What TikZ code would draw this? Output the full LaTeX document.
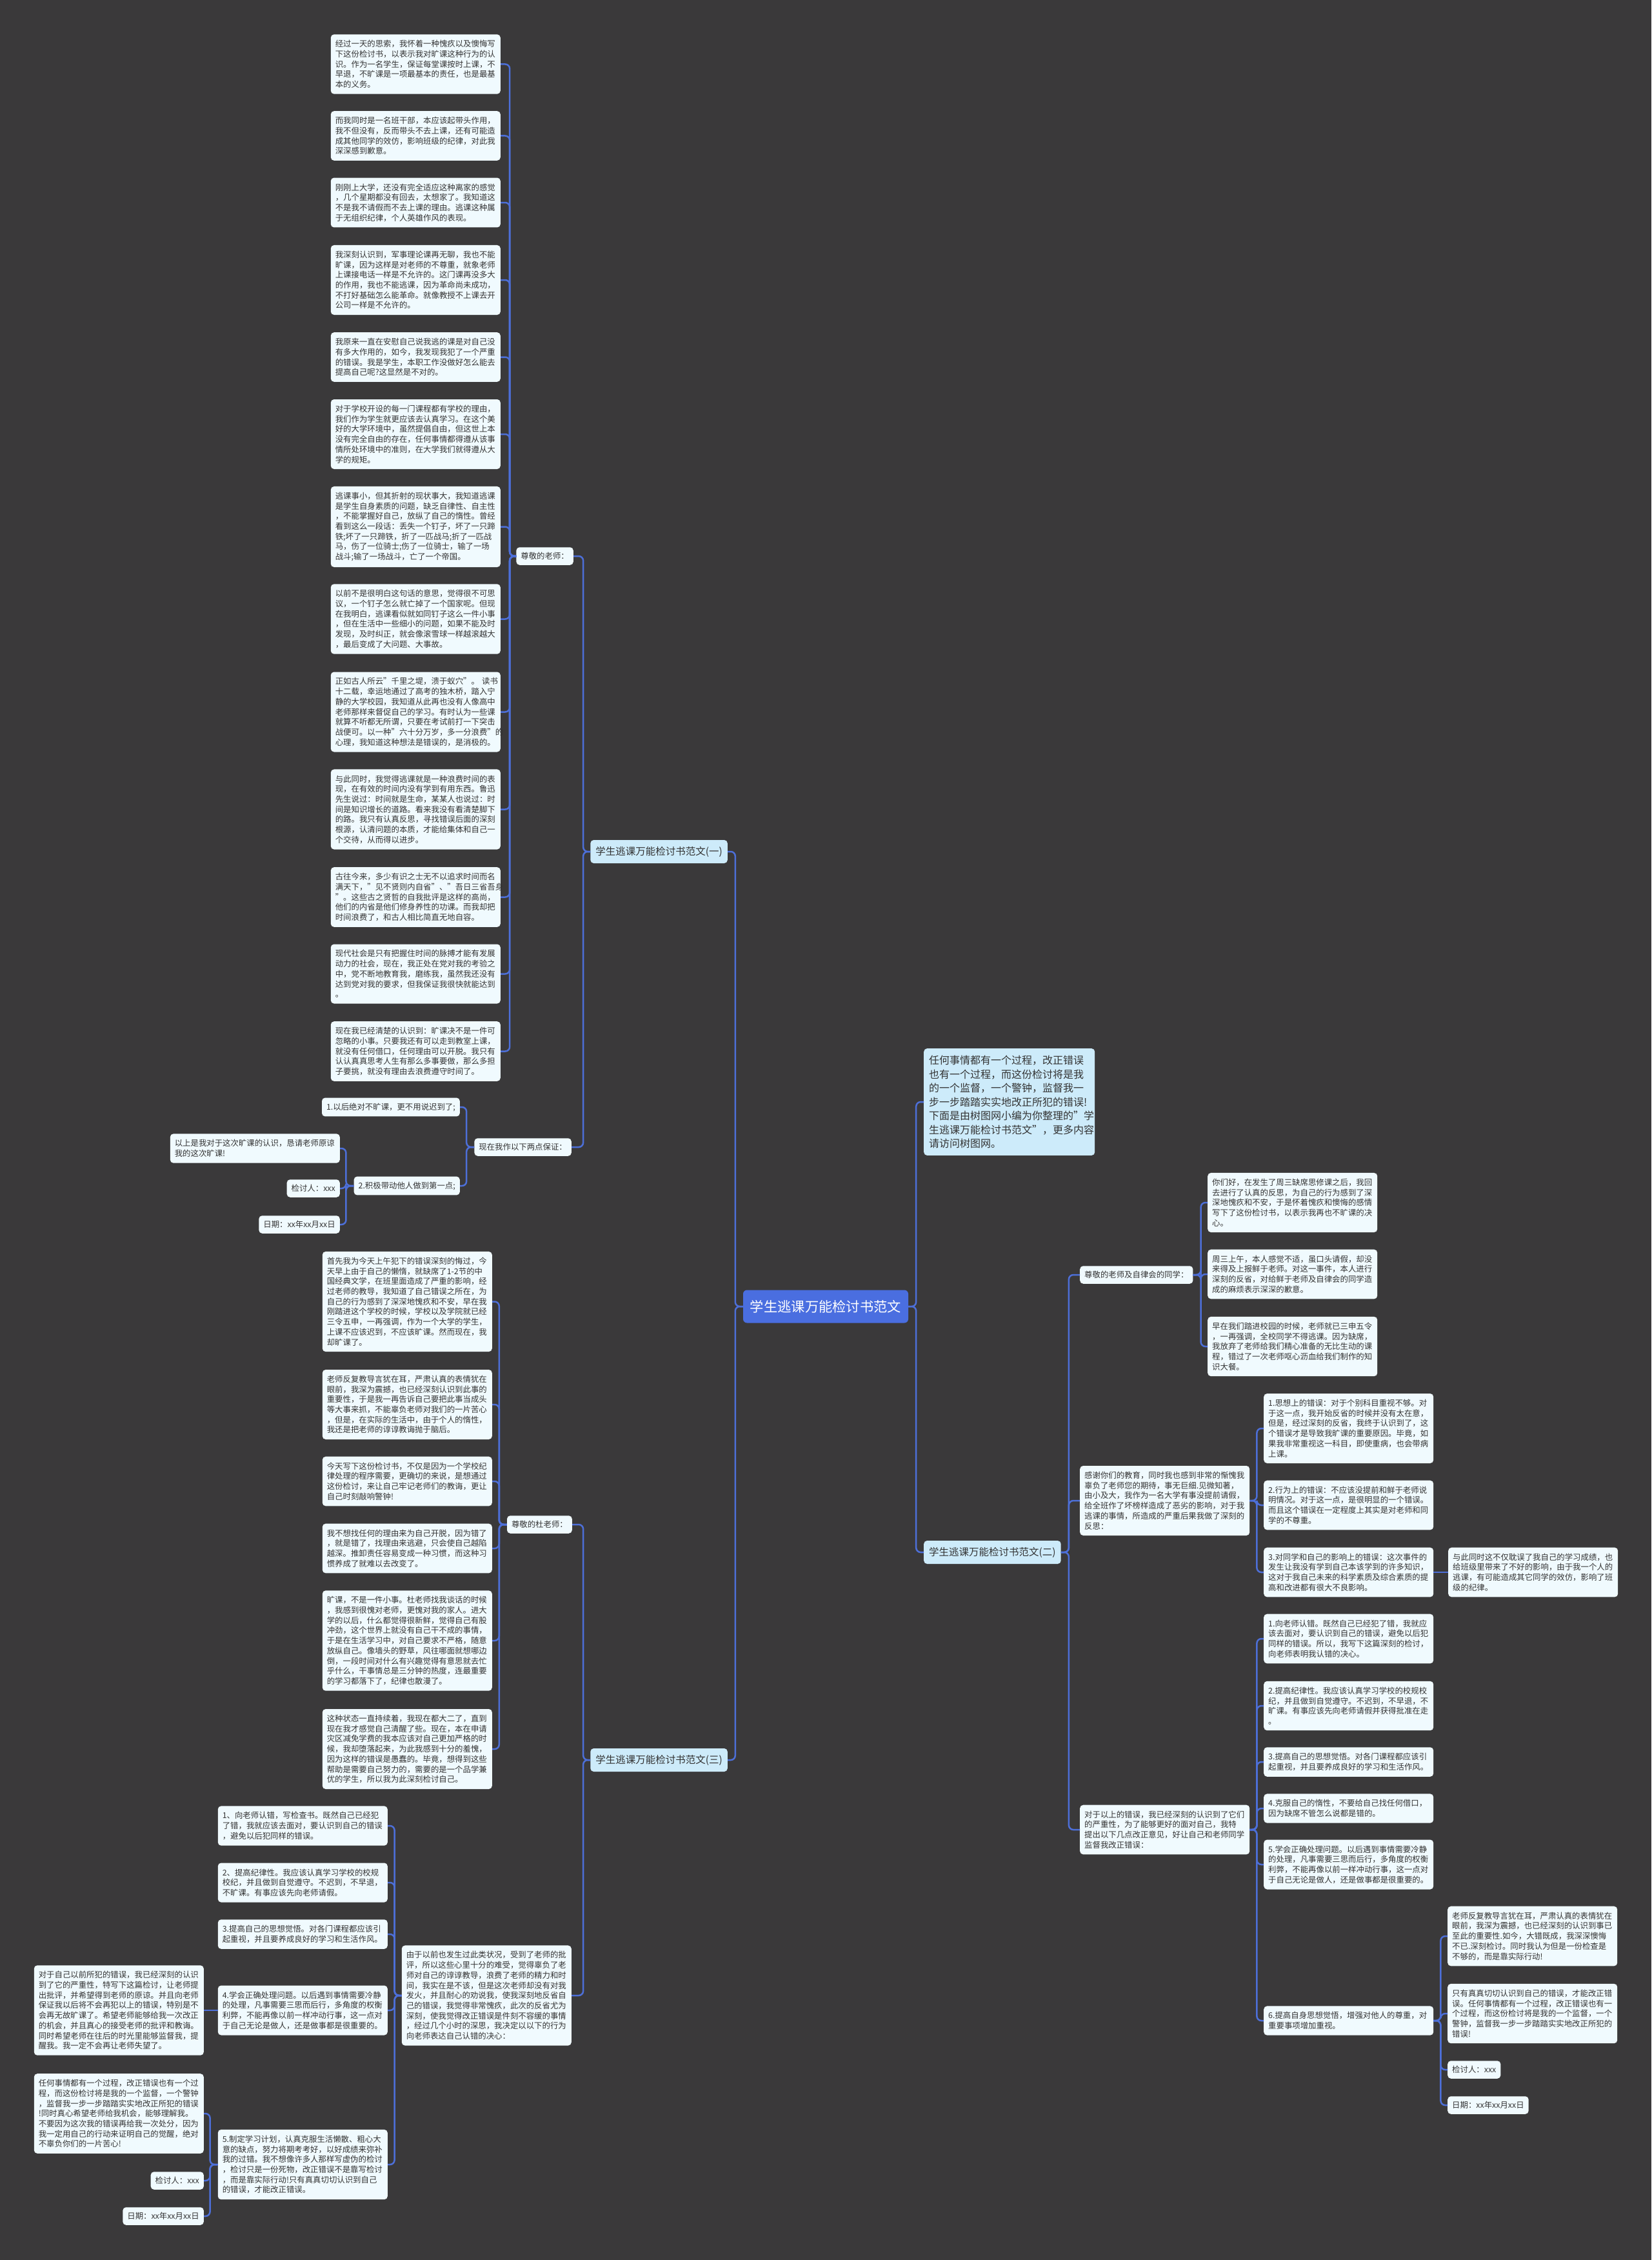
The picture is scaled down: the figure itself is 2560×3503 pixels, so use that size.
\documentclass[tikz,border=0pt]{standalone}
\usepackage{fontspec}
\setmainfont{Noto Sans CJK SC}
\definecolor{bgc}{HTML}{3A393A}
\definecolor{boxc}{HTML}{F0FAFE}
\definecolor{lvc}{HTML}{CDEBFA}
\definecolor{rootc}{HTML}{4A6EE0}
\definecolor{linec}{HTML}{4D6FD8}
\definecolor{txtc}{HTML}{333333}
\begin{document}
\begin{tikzpicture}[x=1pt,y=-1pt,
  tbox/.style={fill=boxc, rounded corners=5pt, text width=249pt, align=left, inner xsep=7pt, inner ysep=9pt, text=txtc, font=\fontsize{12.4}{15.7}\selectfont},
  lab/.style={fill=boxc, rounded corners=5pt, align=left, inner xsep=7pt, inner ysep=8pt, text=txtc, font=\fontsize{12.4}{15.7}\selectfont},
  lvl/.style={fill=lvc, rounded corners=5pt, inner xsep=8pt, minimum height=36pt, text=txtc, font=\fontsize{15.5}{18}\selectfont},
  intro/.style={fill=lvc, rounded corners=5pt, text width=249pt, align=left, inner xsep=8pt, inner ysep=11pt, text=txtc, font=\fontsize{16}{21.5}\selectfont},
  rootn/.style={fill=rootc, text=white, rounded corners=6pt, minimum width=256pt, minimum height=51pt, font=\fontsize{21.3}{24}\selectfont},
  conn/.style={draw=linec, line width=2.5pt, rounded corners=7pt}
]
\fill[bgc] (0,0) rectangle (2560,3503);
\useasboundingbox (0,0) rectangle (2560,3503);

% ---------- root and level 1 ----------
\node[rootn] (root) at (1280,2025) {学生逃课万能检讨书范文};
\node[lvl, anchor=east] (s1) at (1128,1320) {学生逃课万能检讨书范文(一)};
\node[lvl, anchor=east] (s3) at (1128,2728) {学生逃课万能检讨书范文(三)};
\node[lvl, anchor=west] (s2) at (1432,2406) {学生逃课万能检讨书范文(二)};
\node[intro, anchor=west] (intro) at (1432,1708) {任何事情都有一个过程，改正错误\\也有一个过程，而这份检讨将是我\\的一个监督，一个警钟，监督我一\\步一步踏踏实实地改正所犯的错误!\\下面是由树图网小编为你整理的"学\\生逃课万能检讨书范文"，更多内容\\请访问树图网。};

% ---------- branch (一) ----------
\node[lab, anchor=east] (a1) at (889,862) {尊敬的老师：};
\node[tbox, anchor=east] (b1) at (776,99.5) {经过一天的思索，我怀着一种愧疚以及懊悔写\\下这份检讨书，以表示我对旷课这种行为的认\\识。作为一名学生，保证每堂课按时上课，不\\早退，不旷课是一项最基本的责任，也是最基\\本的义务。};
\node[tbox, anchor=east] (b2) at (776,210.5) {而我同时是一名班干部，本应该起带头作用，\\我不但没有，反而带头不去上课，还有可能造\\成其他同学的效仿，影响班级的纪律，对此我\\深深感到歉意。};
\node[tbox, anchor=east] (b3) at (776,314) {刚刚上大学，还没有完全适应这种离家的感觉\\，几个星期都没有回去，太想家了。我知道这\\不是我不请假而不去上课的理由。逃课这种属\\于无组织纪律，个人英雄作风的表现。};
\node[tbox, anchor=east] (b4) at (776,434) {我深刻认识到，军事理论课再无聊，我也不能\\旷课，因为这样是对老师的不尊重，就象老师\\上课接电话一样是不允许的。这门课再没多大\\的作用，我也不能逃课，因为革命尚未成功，\\不打好基础怎么能革命。就像教授不上课去开\\公司一样是不允许的。};
\node[tbox, anchor=east] (b5) at (776,553.5) {我原来一直在安慰自己说我逃的课是对自己没\\有多大作用的，如今，我发现我犯了一个严重\\的错误。我是学生，本职工作没做好怎么能去\\提高自己呢?这显然是不对的。};
\node[tbox, anchor=east] (b6) at (776,673) {对于学校开设的每一门课程都有学校的理由，\\我们作为学生就更应该去认真学习。在这个美\\好的大学环境中，虽然提倡自由，但这世上本\\没有完全自由的存在，任何事情都得遵从该事\\情所处环境中的准则，在大学我们就得遵从大\\学的规矩。};
\node[tbox, anchor=east] (b7) at (776,816.5) {逃课事小，但其折射的现状事大，我知道逃课\\是学生自身素质的问题，缺乏自律性、自主性\\，不能掌握好自己，放纵了自己的惰性。曾经\\看到这么一段话：丢失一个钉子，坏了一只蹄\\铁;坏了一只蹄铁，折了一匹战马;折了一匹战\\马，伤了一位骑士;伤了一位骑士，输了一场\\战斗;输了一场战斗，亡了一个帝国。};
\node[tbox, anchor=east] (b8) at (776,959.5) {以前不是很明白这句话的意思，觉得很不可思\\议，一个钉子怎么就亡掉了一个国家呢。但现\\在我明白，逃课看似就如同钉子这么一件小事\\，但在生活中一些细小的问题，如果不能及时\\发现，及时纠正，就会像滚雪球一样越滚越大\\，最后变成了大问题、大事故。};
\node[tbox, anchor=east] (b9) at (776,1103.5) {正如古人所云"千里之堤，溃于蚁穴"。~读书\\十二载，幸运地通过了高考的独木桥，踏入宁\\静的大学校园，我知道从此再也没有人像高中\\老师那样来督促自己的学习。有时认为一些课\\就算不听都无所谓，只要在考试前打一下突击\\战便可。以一种"六十分万岁，多一分浪费"的\\心理，我知道这种想法是错误的，是消极的。};
\node[tbox, anchor=east] (b10) at (776,1254.5) {与此同时，我觉得逃课就是一种浪费时间的表\\现，在有效的时间内没有学到有用东西。鲁迅\\先生说过：时间就是生命，某某人也说过：时\\间是知识增长的道路。看来我没有看清楚脚下\\的路。我只有认真反思，寻找错误后面的深刻\\根源，认清问题的本质，才能给集体和自己一\\个交待，从而得以进步。};
\node[tbox, anchor=east] (b11) at (776,1390.5) {古往今来，多少有识之士无不以追求时间而名\\满天下，"见不贤则内自省"、"吾日三省吾身\\"。这些古之贤哲的自我批评是这样的高尚，\\他们的内省是他们修身养性的功课。而我却把\\时间浪费了，和古人相比简直无地自容。};
\node[tbox, anchor=east] (b12) at (776,1509.5) {现代社会是只有把握住时间的脉搏才能有发展\\动力的社会，现在，我正处在党对我的考验之\\中，党不断地教育我，磨练我，虽然我还没有\\达到党对我的要求，但我保证我很快就能达到\\。};
\node[tbox, anchor=east] (b13) at (776,1629.5) {现在我已经清楚的认识到：旷课决不是一件可\\忽略的小事。只要我还有可以走到教室上课，\\就没有任何借口，任何理由可以开脱。我只有\\认认真真思考人生有那么多事要做，那么多担\\子要挑，就没有理由去浪费遵守时间了。};

\node[lab, anchor=east] (a2) at (886,1778) {现在我作以下两点保证：};
\node[lab, anchor=east] (a2x) at (713,1716) {1.以后绝对不旷课，更不用说迟到了;};
\node[lab, anchor=east] (a2y) at (713,1838) {2.积极带动他人做到第一点;};
\node[tbox, anchor=east] (q1) at (527,1780) {以上是我对于这次旷课的认识，恳请老师原谅\\我的这次旷课!};
\node[lab, anchor=east] (q2) at (527,1842) {检讨人：xxx};
\node[lab, anchor=east] (q3) at (527,1898) {日期：xx年xx月xx日};

% ---------- branch (三) ----------
\node[lab, anchor=east] (a3) at (887,2363) {尊敬的杜老师：};
\node[tbox, anchor=east] (c1) at (763,2017.5) {首先我为今天上午犯下的错误深刻的悔过，今\\天早上由于自己的懒惰，就缺席了1-2节的中\\国经典文学，在班里面造成了严重的影响，经\\过老师的教导，我知道了自己错误之所在，为\\自己的行为感到了深深地愧疚和不安，早在我\\刚踏进这个学校的时候，学校以及学院就已经\\三令五申，一再强调，作为一个大学的学生，\\上课不应该迟到，不应该旷课。然而现在，我\\却旷课了。};
\node[tbox, anchor=east] (c2) at (763,2177) {老师反复教导言犹在耳，严肃认真的表情犹在\\眼前，我深为震撼，也已经深刻认识到此事的\\重要性，于是我一再告诉自己要把此事当成头\\等大事来抓，不能辜负老师对我们的一片苦心\\，但是，在实际的生活中，由于个人的惰性，\\我还是把老师的谆谆教诲抛于脑后。};
\node[tbox, anchor=east] (c3) at (763,2296) {今天写下这份检讨书，不仅是因为一个学校纪\\律处理的程序需要，更确切的来说，是想通过\\这份检讨，来让自己牢记老师们的教诲，更让\\自己时刻敲响警钟!};
\node[tbox, anchor=east] (c4) at (763,2400) {我不想找任何的理由来为自己开脱，因为错了\\，就是错了，找理由来逃避，只会使自己越陷\\越深。推卸责任容易变成一种习惯，而这种习\\惯养成了就难以去改变了。};
\node[tbox, anchor=east] (c5) at (763,2543) {旷课，不是一件小事。杜老师找我谈话的时候\\，我感到很愧对老师，更愧对我的家人。进大\\学的以后，什么都觉得很新鲜，觉得自己有股\\冲劲，这个世界上就没有自己干不成的事情，\\于是在生活学习中，对自己要求不严格，随意\\放纵自己。像墙头的野草，风往哪面就想哪边\\倒，一段时间对什么有兴趣觉得有意思就去忙\\乎什么，干事情总是三分钟的热度，连最重要\\的学习都落下了，纪律也散漫了。};
\node[tbox, anchor=east] (c6) at (763,2711) {这种状态一直持续着，我现在都大二了，直到\\现在我才感觉自己清醒了些。现在，本在申请\\灾区减免学费的我本应该对自己更加严格的时\\候，我却堕落起来，为此我感到十分的羞愧，\\因为这样的错误是愚蠢的。毕竟，想得到这些\\帮助是需要自己努力的，需要的是一个品学兼\\优的学生，所以我为此深刻检讨自己。};

\node[tbox, anchor=east] (a4) at (886,3093) {由于以前也发生过此类状况，受到了老师的批\\评，所以这些心里十分的难受，觉得辜负了老\\师对自己的谆谆教导，浪费了老师的精力和时\\间，我实在是不该，但是这次老师却没有对我\\发火，并且耐心的劝说我，使我深刻地反省自\\己的错误，我觉得非常愧疚，此次的反省尤为\\深刻，使我觉得改正错误是件刻不容缓的事情\\，经过几个小时的深思，我决定以以下的行为\\向老师表达自己认错的决心：};
\node[tbox, anchor=east] (d1) at (601,2830) {1、向老师认错，写检查书。既然自己已经犯\\了错，我就应该去面对，要认识到自己的错误\\，避免以后犯同样的错误。};
\node[tbox, anchor=east] (d2) at (601,2918) {2、提高纪律性。我应该认真学习学校的校规\\校纪，并且做到自觉遵守。不迟到，不早退，\\不旷课。有事应该先向老师请假。};
\node[tbox, anchor=east] (d3) at (601,2998) {3.提高自己的思想觉悟。对各门课程都应该引\\起重视，并且要养成良好的学习和生活作风。};
\node[tbox, anchor=east] (d4) at (601,3116) {4.学会正确处理问题。以后遇到事情需要冷静\\的处理，凡事需要三思而后行，多角度的权衡\\利弊，不能再像以前一样冲动行事，这一点对\\于自己无论是做人，还是做事都是很重要的。};
\node[tbox, anchor=east] (d5) at (601,3355) {5.制定学习计划，认真克服生活懒散、粗心大\\意的缺点，努力将期考考好，以好成绩来弥补\\我的过错。我不想像许多人那样写虚伪的检讨\\，检讨只是一份死物，改正错误不是靠写检讨\\，而是靠实际行动!只有真真切切认识到自己\\的错误，才能改正错误。};
\node[tbox, anchor=east] (k) at (316,3116) {对于自己以前所犯的错误，我已经深刻的认识\\到了它的严重性，特写下这篇检讨，让老师提\\出批评，并希望得到老师的原谅。并且向老师\\保证我以后将不会再犯以上的错误，特别是不\\会再无故旷课了。希望老师能够给我一次改正\\的机会，并且真心的接受老师的批评和教诲。\\同时希望老师在往后的时光里能够监督我，提\\醒我。我一定不会再让老师失望了。};
\node[tbox, anchor=east] (h1) at (316,3276) {任何事情都有一个过程，改正错误也有一个过\\程，而这份检讨将是我的一个监督，一个警钟\\，监督我一步一步踏踏实实地改正所犯的错误\\!同时真心希望老师给我机会，能够理解我。\\不要因为这次我的错误再给我一次处分，因为\\我一定用自己的行动来证明自己的觉醒，绝对\\不辜负你们的一片苦心!};
\node[lab, anchor=east] (h2) at (316,3380) {检讨人：xxx};
\node[lab, anchor=east] (h3) at (316,3435) {日期：xx年xx月xx日};

% ---------- branch (二) ----------
\node[lab, anchor=west] (r0) at (1674,1976) {尊敬的老师及自律会的同学：};
\node[tbox, anchor=west] (r1) at (1872,1864) {你们好，在发生了周三缺席思修课之后，我回\\去进行了认真的反思，为自己的行为感到了深\\深地愧疚和不安，于是怀着愧疚和懊悔的感情\\写下了这份检讨书，以表示我再也不旷课的决\\心。};
\node[tbox, anchor=west] (r2) at (1872,1975) {周三上午，本人感觉不适，虽口头请假，却没\\来得及上报鲜于老师。对这一事件，本人进行\\深刻的反省，对给鲜于老师及自律会的同学造\\成的麻烦表示深深的歉意。};
\node[tbox, anchor=west] (r3) at (1872,2087) {早在我们踏进校园的时候，老师就已三申五令\\，一再强调，全校同学不得逃课。因为缺席，\\我放弃了老师给我们精心准备的无比生动的课\\程，错过了一次老师呕心沥血给我们制作的知\\识大餐。};

\node[tbox, anchor=west] (e0) at (1674,2326) {感谢你们的教育，同时我也感到非常的惭愧我\\辜负了老师您的期待，事无巨细.见微知著，\\由小及大，我作为一名大学有事没提前请假，\\给全班作了坏榜样造成了恶劣的影响，对于我\\逃课的事情，所造成的严重后果我做了深刻的\\反思：};
\node[tbox, anchor=west] (e1) at (1959,2214) {1.思想上的错误：对于个别科目重视不够。对\\于这一点，我开始反省的时候并没有太在意，\\但是，经过深刻的反省，我终于认识到了，这\\个错误才是导致我旷课的重要原因。毕竟，如\\果我非常重视这一科目，即使重病，也会带病\\上课。};
\node[tbox, anchor=west] (e2) at (1959,2333) {2.行为上的错误：不应该没提前和鲜于老师说\\明情况。对于这一点，是很明显的一个错误。\\而且这个错误在一定程度上其实是对老师和同\\学的不尊重。};
\node[tbox, anchor=west] (e3) at (1959,2437) {3.对同学和自己的影响上的错误：这次事件的\\发生让我没有学到自己本该学到的许多知识，\\这对于我自己未来的科学素质及综合素质的提\\高和改进都有很大不良影响。};
\node[tbox, anchor=west] (e4) at (2245,2437) {与此同时这不仅耽误了我自己的学习成绩，也\\给班级里带来了不好的影响，由于我一个人的\\逃课，有可能造成其它同学的效仿，影响了班\\级的纪律。};

\node[tbox, anchor=west] (f0) at (1674,2836) {对于以上的错误，我已经深刻的认识到了它们\\的严重性，为了能够更好的面对自己，我特\\提出以下几点改正意见，好让自己和老师同学\\监督我改正错误：};
\node[tbox, anchor=west] (f1) at (1959,2540) {1.向老师认错。既然自己已经犯了错，我就应\\该去面对，要认识到自己的错误，避免以后犯\\同样的错误。所以，我写下这篇深刻的检讨，\\向老师表明我认错的决心。};
\node[tbox, anchor=west] (f2) at (1959,2644) {2.提高纪律性。我应该认真学习学校的校规校\\纪，并且做到自觉遵守。不迟到，不早退，不\\旷课。有事应该先向老师请假并获得批准在走\\。};
\node[tbox, anchor=west] (f3) at (1959,2731) {3.提高自己的思想觉悟。对各门课程都应该引\\起重视，并且要养成良好的学习和生活作风。};
\node[tbox, anchor=west] (f4) at (1959,2803) {4.克服自己的惰性，不要给自己找任何借口，\\因为缺席不管怎么说都是错的。};
\node[tbox, anchor=west] (f5) at (1959,2890) {5.学会正确处理问题。以后遇到事情需要冷静\\的处理，凡事需要三思而后行，多角度的权衡\\利弊，不能再像以前一样冲动行事，这一点对\\于自己无论是做人，还是做事都是很重要的。};
\node[tbox, anchor=west] (f6) at (1959,3132) {6.提高自身思想觉悟，增强对他人的尊重，对\\重要事项增加重视。};
\node[tbox, anchor=west] (g1) at (2244,3001) {老师反复教导言犹在耳，严肃认真的表情犹在\\眼前，我深为震撼，也已经深刻的认识到事已\\至此的重要性.如今，大错既成，我深深懊悔\\不已.深刻检讨。同时我认为但是一份检查是\\不够的，而是靠实际行动!};
\node[tbox, anchor=west] (g2) at (2244,3121) {只有真真切切认识到自己的错误，才能改正错\\误。任何事情都有一个过程，改正错误也有一\\个过程，而这份检讨将是我的一个监督，一个\\警钟，监督我一步一步踏踏实实地改正所犯的\\错误!};
\node[lab, anchor=west] (g3) at (2244,3208) {检讨人：xxx};
\node[lab, anchor=west] (g4) at (2244,3263) {日期：xx年xx月xx日};

% ---------- connectors ----------
\foreach \c in {s1,s3} \draw[conn] (root.west) -- ++(-12,0) |- (\c.east);
\foreach \c in {intro,s2} \draw[conn] (root.east) -- ++(12,0) |- (\c.west);
\foreach \c in {a1,a2} \draw[conn] (s1.west) -- ++(-11,0) |- (\c.east);
\foreach \c in {b1,b2,b3,b4,b5,b6,b7,b8,b9,b10,b11,b12,b13} \draw[conn] (a1.west) -- ++(-10,0) |- (\c.east);
\foreach \c in {a2x,a2y} \draw[conn] (a2.west) -- ++(-12,0) |- (\c.east);
\foreach \c in {q1,q2,q3} \draw[conn] (a2y.west) -- ++(-12,0) |- (\c.east);
\foreach \c in {a3,a4} \draw[conn] (s3.west) -- ++(-11,0) |- (\c.east);
\foreach \c in {c1,c2,c3,c4,c5,c6} \draw[conn] (a3.west) -- ++(-12,0) |- (\c.east);
\foreach \c in {d1,d2,d3,d4,d5} \draw[conn] (a4.west) -- ++(-11,0) |- (\c.east);
\draw[conn] (d4.west) -- (k.east);
\foreach \c in {h1,h2,h3} \draw[conn] (d5.west) -- ++(-12,0) |- (\c.east);
\foreach \c in {r0,e0,f0} \draw[conn] (s2.east) -- ++(12,0) |- (\c.west);
\foreach \c in {r1,r2,r3} \draw[conn] (r0.east) -- ++(12,0) |- (\c.west);
\foreach \c in {e1,e2,e3} \draw[conn] (e0.east) -- ++(11,0) |- (\c.west);
\draw[conn] (e3.east) -- (e4.west);
\foreach \c in {f1,f2,f3,f4,f5,f6} \draw[conn] (f0.east) -- ++(11,0) |- (\c.west);
\foreach \c in {g1,g2,g3,g4} \draw[conn] (f6.east) -- ++(11,0) |- (\c.west);
\end{tikzpicture}
\end{document}
